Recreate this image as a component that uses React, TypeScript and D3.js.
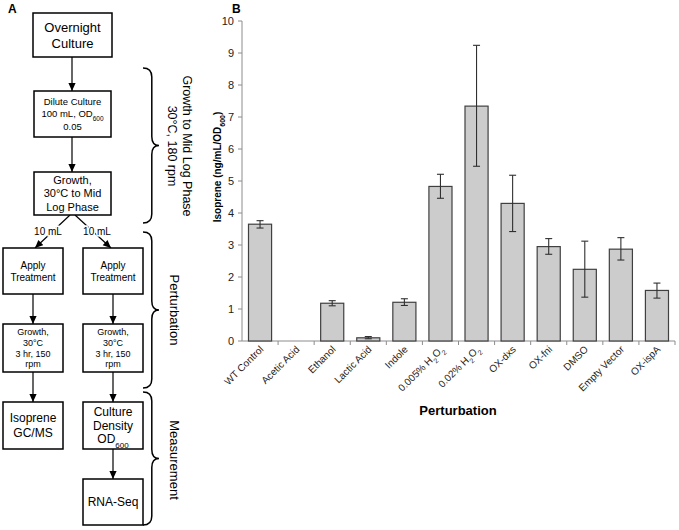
import React from "react";
import * as d3 from "d3";

const categories = [
  "WT Control", "Acetic Acid", "Ethanol", "Lactic Acid", "Indole",
  "0.005% H2O2", "0.02% H2O2", "OX-dxs", "OX-fni", "DMSO", "Empty Vector", "OX-ispA",
];
const means = [3.65, 0, 1.18, 0.1, 1.21, 4.83, 7.34, 4.3, 2.95, 2.24, 2.87, 1.58];
const errLow = [3.53, 0, 1.1, 0.07, 1.11, 4.46, 5.46, 3.42, 2.71, 1.37, 2.53, 1.34];
const errHigh = [3.76, 0, 1.26, 0.14, 1.32, 5.21, 9.24, 5.18, 3.2, 3.12, 3.23, 1.81];
const yTicks = [0, 1, 2, 3, 4, 5, 6, 7, 8, 9, 10];

const FONT = "'Liberation Sans', Arial, sans-serif";

function renderLabel(label: string) {
  if (label.includes("H2O2")) {
    const pre = label.replace("H2O2", "");
    return (
      <>
        {pre}H<tspan baselineShift="sub" fontSize="7">2</tspan>O<tspan baselineShift="sub" fontSize="7">2</tspan>
      </>
    );
  }
  return label;
}

function bracePath(x0: number, y0: number, y1: number, w: number) {
  const ym = (y0 + y1) / 2;
  const xm = x0 + w * 0.55;
  const tip = x0 + w;
  const r = 9;
  return `M${x0},${y0} Q${xm},${y0} ${xm},${y0 + r} L${xm},${ym - r} Q${xm},${ym} ${tip},${ym} Q${xm},${ym} ${xm},${ym + r} L${xm},${y1 - r} Q${xm},${y1} ${x0},${y1}`;
}

type BoxDef = { x: number; y: number; w: number; h: number; lines: any[]; size: number; lh: number };

export default function App() {
  const x = d3.scaleBand<string>().domain(categories).range([242, 675]).paddingInner(0.36).paddingOuter(0.18);
  const step = x.step();
  const y = d3.scaleLinear().domain([0, 10]).range([341, 21]);
  const axisColor = "#8c8c8c";

  const boxes: BoxDef[] = [
    { x: 33, y: 13, w: 79, h: 44, lines: ["Overnight", "Culture"], size: 13, lh: 16 },
    { x: 34, y: 91, w: 77, h: 46, lines: ["Dilute Culture", <>100 mL, OD<tspan fontSize="6.5" baselineShift="sub">600</tspan></>, "0.05"], size: 9.5, lh: 12.5 },
    { x: 34, y: 172, w: 77, h: 43, lines: ["Growth,", "30°C to Mid", "Log Phase"], size: 11, lh: 13.5 },
    { x: 3, y: 248, w: 60, h: 46, lines: ["Apply", "Treatment"], size: 10, lh: 12 },
    { x: 83, y: 248, w: 60, h: 46, lines: ["Apply", "Treatment"], size: 10, lh: 12 },
    { x: 3, y: 324, w: 60, h: 48, lines: ["Growth,", "30°C", "3 hr, 150", "rpm"], size: 9, lh: 10.8 },
    { x: 83, y: 324, w: 60, h: 48, lines: ["Growth,", "30°C", "3 hr, 150", "rpm"], size: 9, lh: 10.8 },
    { x: 3, y: 402, w: 60, h: 47, lines: ["Isoprene", "GC/MS"], size: 12, lh: 15 },
    { x: 83, y: 402, w: 60, h: 47, lines: ["Culture", "Density", <>OD<tspan fontSize="8" baselineShift="sub">600</tspan></>], size: 12, lh: 13.5 },
    { x: 83, y: 479, w: 60, h: 46, lines: ["RNA-Seq"], size: 12, lh: 14 },
  ];

  const arrows = [
    [72, 57, 72, 91],
    [72, 137, 72, 172],
    [33, 294, 33, 324],
    [113, 294, 113, 324],
    [33, 372, 33, 402],
    [113, 372, 113, 402],
    [113, 449, 113, 479],
    [70, 215, 35, 248],
    [75, 215, 111, 248],
  ];

  return (
    <svg width={679} height={530} style={{ position: "absolute", left: 0, top: 0, background: "#fff" }} fontFamily={FONT}>
      <defs>
        <marker id="ah" viewBox="0 0 10 10" refX="10" refY="5" markerWidth="9" markerHeight="8" orient="auto" markerUnits="userSpaceOnUse">
          <path d="M0,0.5 L10,5 L0,9.5 Z" fill="#000" />
        </marker>
      </defs>
      {/* Panel A */}
      <text x={8} y={13} fontSize={12} fontWeight="bold">A</text>
      {arrows.map((a, i) => (
        <line key={i} x1={a[0]} y1={a[1]} x2={a[2]} y2={a[3]} stroke="#000" strokeWidth={1.2} markerEnd="url(#ah)" />
      ))}
      <text x={48} y={235} fontSize={10} textAnchor="middle" stroke="#fff" strokeWidth={3} paintOrder="stroke" fill="#000">10 mL</text>
      <text x={97} y={235} fontSize={10} textAnchor="middle" stroke="#fff" strokeWidth={3} paintOrder="stroke" fill="#000">10 mL</text>
      {boxes.map((b, i) => {
        const n = b.lines.length;
        const cy = b.y + b.h / 2;
        return (
          <g key={i}>
            <rect x={b.x} y={b.y} width={b.w} height={b.h} fill="#fff" stroke="#000" strokeWidth={1.5} />
            {b.lines.map((l, j) => (
              <text key={j} x={b.x + b.w / 2} y={cy + (j - (n - 1) / 2) * b.lh + b.size * 0.36} fontSize={b.size} textAnchor="middle">{l}</text>
            ))}
          </g>
        );
      })}
      <path d={bracePath(143, 68, 223, 16)} fill="none" stroke="#000" strokeWidth={1.5} />
      <path d={bracePath(143, 232, 388, 16)} fill="none" stroke="#000" strokeWidth={1.5} />
      <path d={bracePath(143, 392, 525, 16)} fill="none" stroke="#000" strokeWidth={1.5} />
      <text transform="translate(183,146) rotate(90)" fontSize={12.5} textAnchor="middle">Growth to Mid Log Phase</text>
      <text transform="translate(168,146) rotate(90)" fontSize={12.5} textAnchor="middle">30°C, 180 rpm</text>
      <text transform="translate(170,310) rotate(90)" fontSize={13} textAnchor="middle">Perturbation</text>
      <text transform="translate(170,460) rotate(90)" fontSize={13} textAnchor="middle">Measurement</text>

      {/* Panel B */}
      <text x={232} y={13} fontSize={12} fontWeight="bold">B</text>
      <line x1={242} x2={242} y1={y(10)} y2={y(0)} stroke={axisColor} />
      {yTicks.map((t) => (
        <g key={t}>
          <line x1={238} x2={242} y1={y(t)} y2={y(t)} stroke={axisColor} />
          <text x={234} y={y(t) + 4} fontSize={11} textAnchor="end" fill="#222">{t}</text>
        </g>
      ))}
      <line x1={242} x2={675} y1={y(0)} y2={y(0)} stroke={axisColor} />
      {categories.map((c, i) => (
        <line key={c} x1={242 + step * (i + 1)} x2={242 + step * (i + 1)} y1={y(0)} y2={y(0) + 4} stroke={axisColor} />
      ))}
      {categories.map((c, i) => {
        const bx = x(c)!;
        const bw = x.bandwidth();
        const cx = bx + bw / 2;
        return (
          <g key={c}>
            {means[i] > 0 && (
              <rect x={bx} y={y(means[i])} width={bw} height={y(0) - y(means[i])} fill="#cccccc" stroke="#404040" strokeWidth={1.2} />
            )}
            {means[i] > 0 && (
              <g stroke="#303030" strokeWidth={1.1}>
                <line x1={cx} x2={cx} y1={y(errHigh[i])} y2={y(errLow[i])} />
                <line x1={cx - 3.5} x2={cx + 3.5} y1={y(errHigh[i])} y2={y(errHigh[i])} />
                <line x1={cx - 3.5} x2={cx + 3.5} y1={y(errLow[i])} y2={y(errLow[i])} />
              </g>
            )}
            <text transform={`translate(${cx + 4},${y(0) + 9}) rotate(-45)`} fontSize={10} textAnchor="end" fill="#222">{renderLabel(c)}</text>
          </g>
        );
      })}
      <text x={458} y={415} fontSize={13} fontWeight="bold" textAnchor="middle">Perturbation</text>
      <text transform="translate(221,167) rotate(-90)" fontSize={10} fontWeight="bold" textAnchor="middle">
        Isoprene (ng/mL/OD<tspan fontSize="7" baselineShift="sub">600</tspan>)
      </text>
    </svg>
  );
}
